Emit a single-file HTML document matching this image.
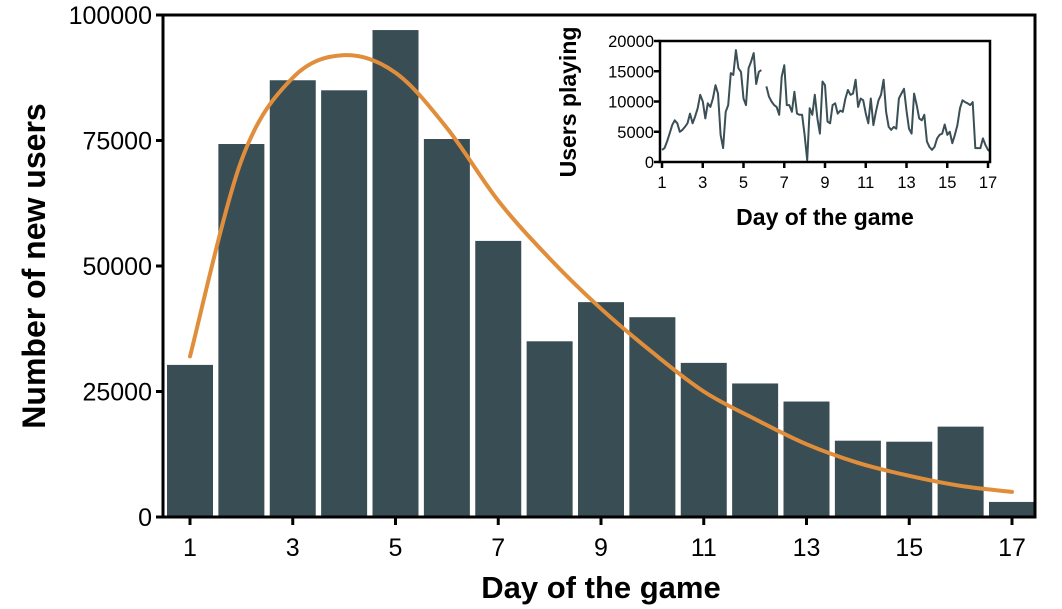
<!DOCTYPE html>
<html><head><meta charset="utf-8"><style>
html,body{margin:0;padding:0;background:#fff;}
svg{display:block;font-family:"Liberation Sans",Arial,sans-serif;}
</style></head><body>
<svg id="chart" width="1062" height="609" viewBox="0 0 1062 609" xmlns="http://www.w3.org/2000/svg">
<g id="main"></g>
<g id="inset"></g>
</svg>
<script>
const days = [1,2,3,4,5,6,7,8,9,10,11,12,13,14,15,16,17];
const newUsers = [30300,74300,87000,85000,97000,75300,55000,35000,42800,39800,30700,26600,23000,15200,15000,18000,3000];
const fitX = [1,2,3,4,5,6,7,8,9,10,11,12,13,14,15,16,17];
const fitY = [32000,71000,87500,92000,88500,77500,63000,51500,41500,32800,25000,19500,14500,10800,8200,6200,5000];
const yTicks = [0,25000,50000,75000,100000];
const xTicks = [1,3,5,7,9,11,13,15,17];
const insetVals = [2000,2300,3400,4700,6100,6900,6400,5000,5300,5800,6400,8000,6400,7500,8900,11100,10000,7200,9700,9100,10500,12700,11300,4500,2300,8300,9400,14700,14400,18500,15500,14900,10500,9400,15500,16600,18000,12900,14900,15200,null,12500,10800,10000,9400,9100,7800,14100,16000,9400,9400,8300,11600,8000,7800,7800,4500,300,8900,7800,11100,7200,4700,13300,12700,6700,6400,9400,9700,8000,8500,8300,10500,11900,11100,11300,13600,9100,10500,10200,8000,6400,10500,6100,8300,10200,11100,13600,8300,5800,5300,5800,5500,10500,11300,12100,8500,5500,4700,11300,9400,7200,6900,7800,3400,2500,2000,2500,3900,4500,4700,6200,4500,5000,3100,4500,6100,8900,10200,9900,9700,9400,9900,2300,2300,2300,3900,2800,2000,1700];
const insetYTicks = [0,5000,10000,15000,20000];
const insetXTicks = [1,3,5,7,9,11,13,15,17];

const NS='http://www.w3.org/2000/svg';
function mk(tag,attrs,parent,text){const e=document.createElementNS(NS,tag);for(const k in attrs)e.setAttribute(k,attrs[k]);if(text!==undefined)e.textContent=text;parent.appendChild(e);return e;}

const M=document.getElementById('main');
const x=d=>190+(d-1)*(1012-190)/16;
const y=v=>517-v*(517-15)/100000;
const bw=46;
days.forEach((d,i)=>{
  const r=mk('rect',{x:x(d)-bw/2,y:y(newUsers[i]),width:bw,height:y(0)-y(newUsers[i]),fill:'#384d54'},M);
  
  
});
let pts=fitX.map((d,i)=>[x(d),y(fitY[i])]);
let dstr='M'+pts[0][0]+','+pts[0][1];
for(let i=0;i<pts.length-1;i++){
  const p0=pts[Math.max(0,i-1)],p1=pts[i],p2=pts[i+1],p3=pts[Math.min(pts.length-1,i+2)];
  const c1=[p1[0]+(p2[0]-p0[0])/6,p1[1]+(p2[1]-p0[1])/6];
  const c2=[p2[0]-(p3[0]-p1[0])/6,p2[1]-(p3[1]-p1[1])/6];
  dstr+=` C${c1[0]},${c1[1]} ${c2[0]},${c2[1]} ${p2[0]},${p2[1]}`;
}
const fit=mk('path',{d:dstr,fill:'none',stroke:'#e08e3c','stroke-width':4,'stroke-linecap':'round'},M);


const fr=mk('rect',{x:163,y:15,width:872,height:502,fill:'none',stroke:'#000','stroke-width':3},M);


yTicks.forEach(v=>{
  mk('line',{x1:156,x2:163,y1:y(v),y2:y(v),stroke:'#000','stroke-width':3},M);
  const t=mk('text',{x:152,y:y(v)+9,'text-anchor':'end','font-size':25,fill:'#000'},M,v);
  
  
});
xTicks.forEach(d=>{
  mk('line',{x1:x(d),x2:x(d),y1:517,y2:525,stroke:'#000','stroke-width':3},M);
  const t=mk('text',{x:x(d),y:556,'text-anchor':'middle','font-size':25,fill:'#000'},M,d);
  
  
});
const xt=mk('text',{x:601,y:598,'text-anchor':'middle','font-size':31,'font-weight':'bold'},M,'Day of the game');


const yt=mk('text',{x:0,y:0,transform:'translate(45,266) rotate(-90)','text-anchor':'middle','font-size':32,'font-weight':'bold'},M,'Number of new users');



const I=document.getElementById('inset');
mk('rect',{x:596,y:20,width:410,height:215,fill:'#fff'},I);
const ix=d=>662+(d-1)*(988-662)/16;
const iy=v=>162-v*(162-41)/20000;
let segs=[],cur='';
insetVals.forEach((v,i)=>{
  const d=1+i/8;
  if(v===null){if(cur)segs.push(cur);cur='';return;}
  cur+=(cur?'L':'M')+ix(d).toFixed(1)+','+iy(v).toFixed(1);
});
if(cur)segs.push(cur);
const ln=mk('path',{d:segs.join(' '),fill:'none',stroke:'#3a4f56','stroke-width':2,'stroke-linejoin':'round'},I);


const ifr=mk('rect',{x:660,y:41,width:330,height:121,fill:'none',stroke:'#000','stroke-width':2.5},I);


insetYTicks.forEach(v=>{
  mk('line',{x1:654,x2:660,y1:iy(v),y2:iy(v),stroke:'#000','stroke-width':2.5},I);
  const t=mk('text',{x:654,y:iy(v)+6,'text-anchor':'end','font-size':16.5,fill:'#000'},I,v);
  
  
});
insetXTicks.forEach(d=>{
  mk('line',{x1:ix(d),x2:ix(d),y1:162,y2:168,stroke:'#000','stroke-width':2.5},I);
  const t=mk('text',{x:ix(d),y:188,'text-anchor':'middle','font-size':16.5,fill:'#000'},I,d);
  
  
});
const ixt=mk('text',{x:825,y:225,'text-anchor':'middle','font-size':23,'font-weight':'bold'},I,'Day of the game');


const iyt=mk('text',{x:0,y:0,transform:'translate(576,102) rotate(-90)','text-anchor':'middle','font-size':23,'font-weight':'bold'},I,'Users playing');


</script>
</body></html>
